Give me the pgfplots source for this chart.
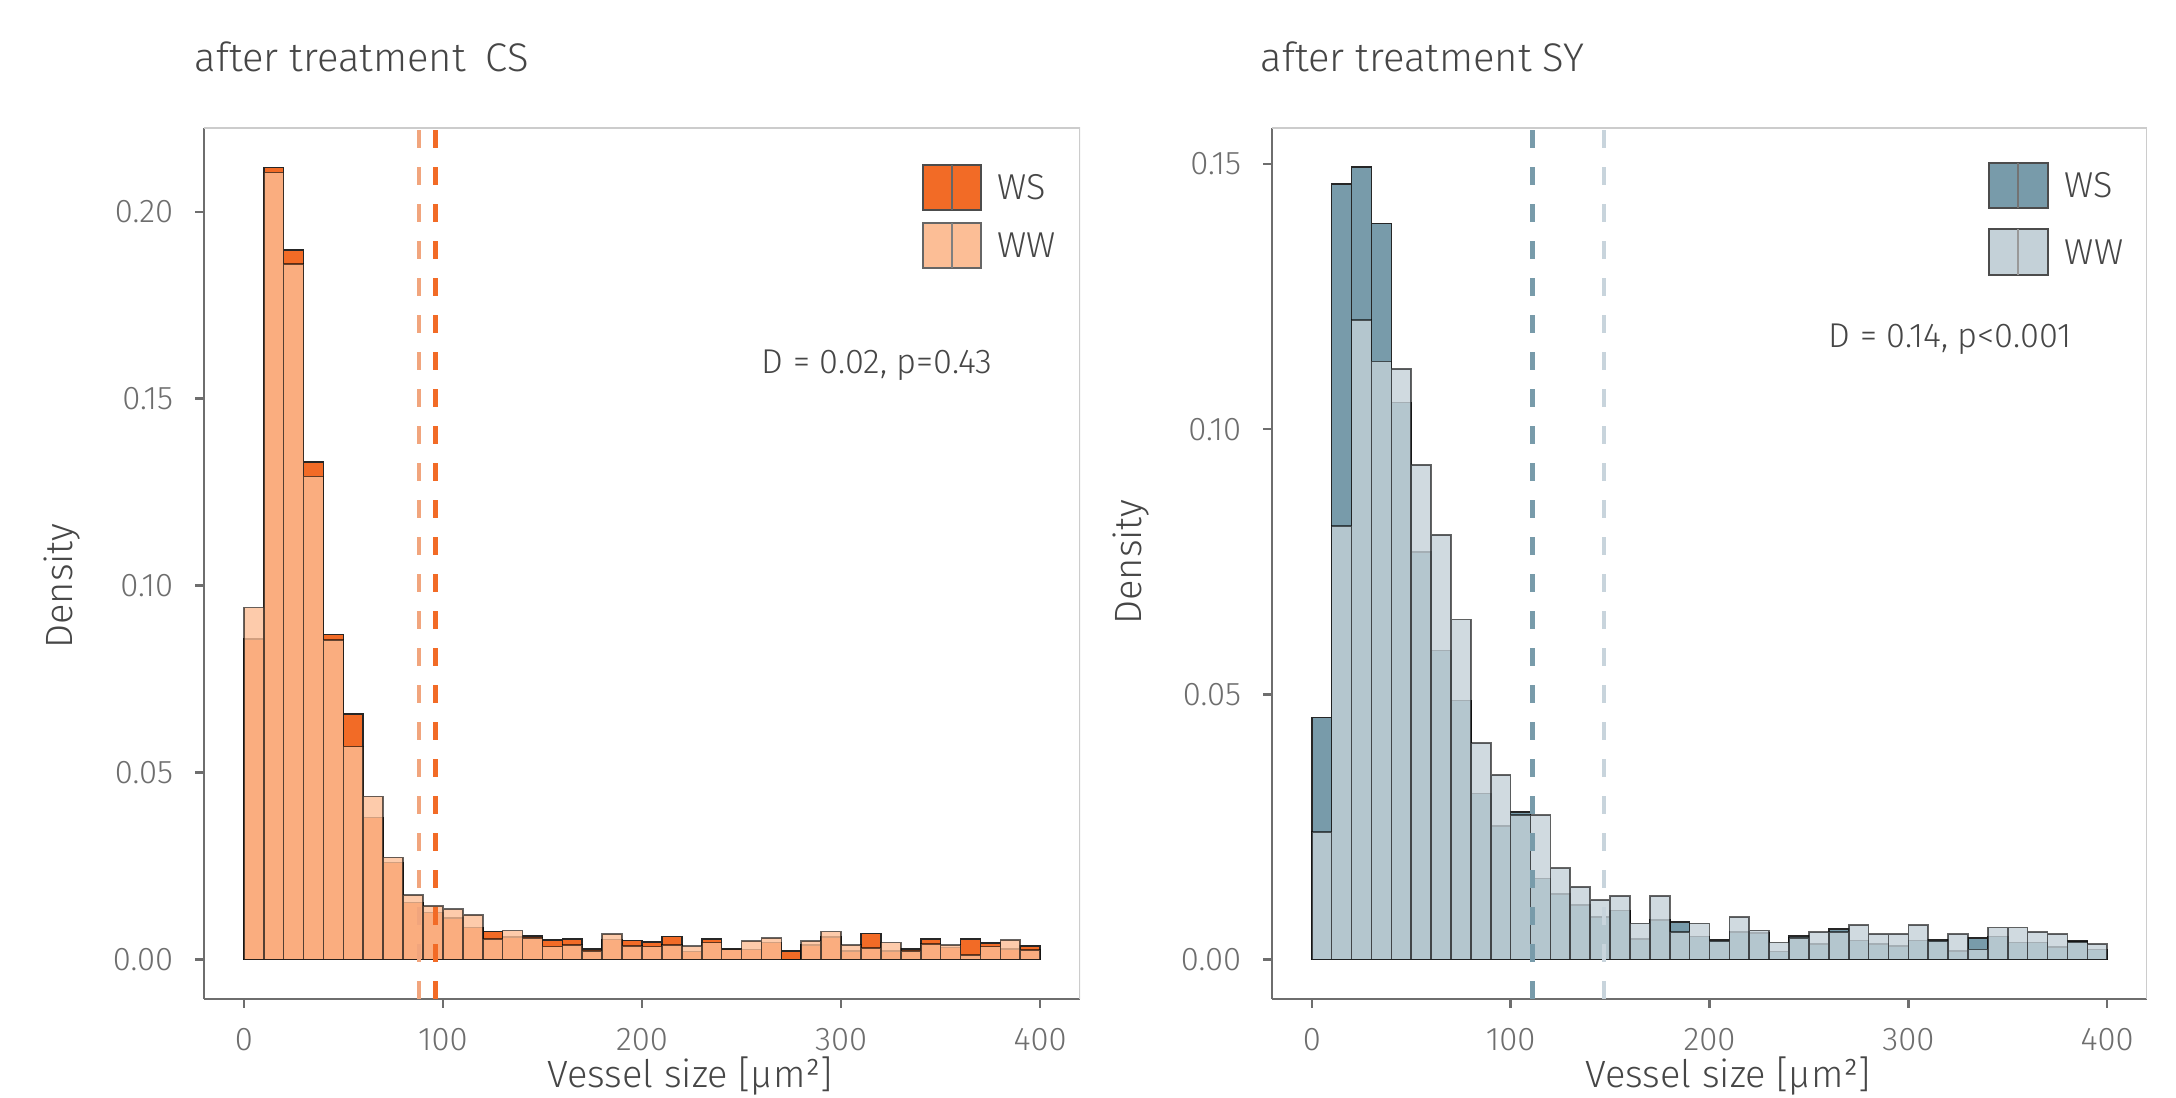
\documentclass[border=0pt]{standalone}
\usepackage{fontspec}
\setmainfont{Fira Sans Light}
\usepackage{pgfplots}
\usepackage{pgfplotstable}
\pgfplotsset{compat=1.18}

\definecolor{csWS}{RGB}{242,107,38}
\definecolor{csWW}{RGB}{252,190,150}
\definecolor{csWWd}{RGB}{241,165,125}
\definecolor{syWS}{RGB}{120,155,170}
\definecolor{syWW}{RGB}{196,209,216}
\definecolor{syWWd}{RGB}{200,212,220}
\definecolor{txt}{RGB}{70,70,70}
\definecolor{tck}{RGB}{110,110,110}

% densities per 10 um^2 bin (left edge), last row closes the interval
\pgfplotstableread{
x ws ww
0 0.0857 0.0941
10 0.2118 0.2105
20 0.1897 0.1860
30 0.1330 0.1292
40 0.0869 0.0854
50 0.0656 0.0569
60 0.0380 0.0436
70 0.0259 0.0273
80 0.0152 0.0172
90 0.0125 0.0143
100 0.0110 0.0134
110 0.0085 0.0119
120 0.0074 0.0054
130 0.0059 0.0077
140 0.0062 0.0057
150 0.0051 0.0034
160 0.0054 0.0038
170 0.0028 0.0023
180 0.0053 0.0068
190 0.0050 0.0036
200 0.0047 0.0034
210 0.0061 0.0038
220 0.0021 0.0035
230 0.0054 0.0045
240 0.0027 0.0026
250 0.0026 0.0049
260 0.0045 0.0057
270 0.0023 0.0000
280 0.0038 0.0049
290 0.0059 0.0074
300 0.0023 0.0038
310 0.0069 0.0030
320 0.0023 0.0045
330 0.0027 0.0023
340 0.0054 0.0041
350 0.0032 0.0038
360 0.0054 0.0012
370 0.0043 0.0034
380 0.0027 0.0052
390 0.0035 0.0025
400 0 0
}\csdata

\pgfplotstableread{
x ws ww
0 0.0456 0.0240
10 0.1462 0.0817
20 0.1494 0.1206
30 0.1388 0.1128
40 0.1050 0.1114
50 0.0768 0.0933
60 0.0583 0.0801
70 0.0488 0.0641
80 0.0313 0.0408
90 0.0252 0.0348
100 0.0278 0.0272
110 0.0153 0.0272
120 0.0123 0.0172
130 0.0103 0.0137
140 0.0080 0.0112
150 0.0092 0.0120
160 0.0039 0.0068
170 0.0074 0.0120
180 0.0071 0.0052
190 0.0043 0.0068
200 0.0037 0.0034
210 0.0052 0.0080
220 0.0050 0.0055
230 0.0015 0.0032
240 0.0044 0.0041
250 0.0029 0.0052
260 0.0057 0.0052
270 0.0036 0.0065
280 0.0029 0.0048
290 0.0025 0.0048
300 0.0036 0.0065
310 0.0037 0.0034
320 0.0016 0.0048
330 0.0040 0.0019
340 0.0043 0.0060
350 0.0032 0.0060
360 0.0032 0.0052
370 0.0023 0.0048
380 0.0035 0.0033
390 0.0019 0.0029
400 0 0
}\sydata

\pgfplotsset{
  panel/.style={
    scale only axis, width=219pt, height=217.75pt,
    anchor=south west,
    xmin=-20, xmax=420,
    xtick={0,100,200,300,400},
    axis x line*=bottom, axis y line*=left,
    axis line style={tck, line width=0.6pt, -},
    tick style={tck, line width=0.6pt},
    tick align=outside, major tick length=2.2pt,
    ticklabel style={font=\fontsize{8.2}{9}\selectfont, text=tck},
    /pgf/number format/assume math mode=true,
    xticklabel style={yshift=-1.5pt},
    yticklabel style={xshift=-2pt},
    clip=true,
  },
  bars/.style={ybar interval, line width=0.4pt},
  mean/.style={line width=1.1pt, dash pattern=on 4.5pt off 4.75pt},
}

\begin{document}
\begin{tikzpicture}
\path[use as bounding box] (0,0) rectangle (544pt,274.5pt);

% ---- left panel: CS ----
\begin{axis}[panel, at={(51pt,24.75pt)},
  ymin=-0.0106, ymax=0.2224,
  ytick={0,0.05,0.10,0.15,0.20},
  yticklabels={0.00,0.05,0.10,0.15,0.20}]
\addplot[bars, fill=csWS, draw=black!85] table[x=x,y=ws] {\csdata};
\addplot[bars, fill=csWW, fill opacity=0.8, draw=black, draw opacity=0.6] table[x=x,y=ww] {\csdata};
\addplot[mean, csWWd] coordinates {(88,-0.0106) (88,0.2224)};
\addplot[mean, csWS] coordinates {(96.3,-0.0106) (96.3,0.2224)};
\draw[black!20, line width=0.6pt] (rel axis cs:0,1) -- (rel axis cs:1,1) -- (rel axis cs:1,0);
% legend
\draw[fill=csWS, draw=black!70, line width=0.5pt] (rel axis cs:0.8208,0.9059) rectangle (rel axis cs:0.887,0.9575);
\draw[black!60, line width=0.5pt] (rel axis cs:0.8539,0.9059) -- (rel axis cs:0.8539,0.9575);
\draw[fill=csWW, draw=black!60, line width=0.5pt] (rel axis cs:0.8208,0.8393) rectangle (rel axis cs:0.887,0.891);
\draw[black!50, line width=0.5pt] (rel axis cs:0.8539,0.8393) -- (rel axis cs:0.8539,0.891);
\node[anchor=west, font=\fontsize{9}{10}\selectfont, text=txt] at (rel axis cs:0.89,0.9317) {WS};
\node[anchor=west, font=\fontsize{9}{10}\selectfont, text=txt] at (rel axis cs:0.89,0.865) {WW};
\node[font=\fontsize{8.6}{10}\selectfont, text=txt] at (axis cs:318,0.159) {D = 0.02, p=0.43};
\end{axis}

% ---- right panel: SY ----
\begin{axis}[panel, at={(318pt,24.75pt)}, width=218.75pt,
  ymin=-0.00745, ymax=0.1568,
  ytick={0,0.05,0.10,0.15},
  yticklabels={0.00,0.05,0.10,0.15}]
\addplot[bars, fill=syWS, draw=black!85] table[x=x,y=ws] {\sydata};
\addplot[bars, fill=syWW, fill opacity=0.8, draw=black, draw opacity=0.6] table[x=x,y=ww] {\sydata};
\addplot[mean, syWS] coordinates {(111,-0.00745) (111,0.1568)};
\addplot[mean, syWWd] coordinates {(146.9,-0.00745) (146.9,0.1568)};
\draw[black!20, line width=0.6pt] (rel axis cs:0,1) -- (rel axis cs:1,1) -- (rel axis cs:1,0);
% legend
\draw[fill=syWS, draw=black!70, line width=0.5pt] (rel axis cs:0.8194,0.9082) rectangle (rel axis cs:0.8869,0.9598);
\draw[black!55, line width=0.5pt] (rel axis cs:0.8531,0.9082) -- (rel axis cs:0.8531,0.9598);
\draw[fill=syWW, draw=black!70, line width=0.5pt] (rel axis cs:0.8194,0.8312) rectangle (rel axis cs:0.8869,0.884);
\draw[black!40, line width=0.5pt] (rel axis cs:0.8531,0.8312) -- (rel axis cs:0.8531,0.884);
\node[anchor=west, font=\fontsize{9}{10}\selectfont, text=txt] at (rel axis cs:0.89,0.934) {WS};
\node[anchor=west, font=\fontsize{9}{10}\selectfont, text=txt] at (rel axis cs:0.89,0.8576) {WW};
\node[font=\fontsize{8.6}{10}\selectfont, text=txt] at (axis cs:321,0.117) {D = 0.14, p<0.001};
\end{axis}

% titles and axis labels
\node[anchor=base west, inner sep=0pt, font=\fontsize{10}{12}\selectfont, text=txt] at (48.5pt,256.5pt) {after treatment\enspace CS};
\node[anchor=base west, inner sep=0pt, font=\fontsize{10}{12}\selectfont, text=txt] at (315pt,256.5pt) {after treatment SY};
\node[rotate=90, font=\fontsize{9.5}{11}\selectfont, text=txt] at (15.5pt,128pt) {Density};
\node[rotate=90, font=\fontsize{9.5}{11}\selectfont, text=txt] at (282.75pt,134pt) {Density};
\node[anchor=base, font=\fontsize{9.5}{11}\selectfont, text=txt] at (172.5pt,2.5pt) {Vessel size [µm²]};
\node[anchor=base, font=\fontsize{9.5}{11}\selectfont, text=txt] at (432pt,2.5pt) {Vessel size [µm²]};
\end{tikzpicture}
\end{document}
